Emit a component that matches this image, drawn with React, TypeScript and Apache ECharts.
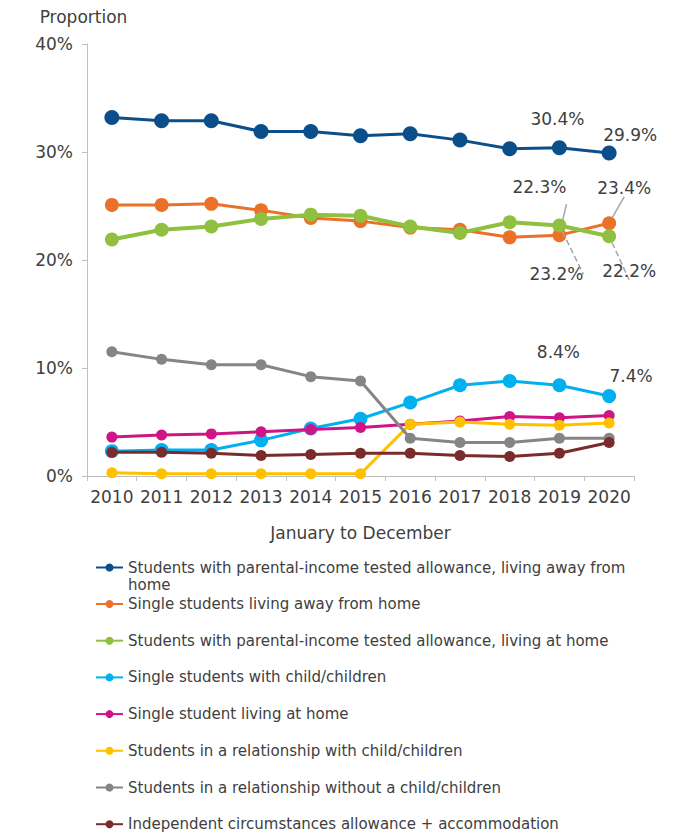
import React, { useEffect, useRef } from "react";
import * as echarts from "echarts";

const years = ["2010", "2011", "2012", "2013", "2014", "2015", "2016", "2017", "2018", "2019", "2020"];
const yTicks = [0, 10, 20, 30, 40];

const parentalAway = [33.2, 32.9, 32.9, 31.9, 31.9, 31.5, 31.7, 31.1, 30.3, 30.4, 29.9];
const singleAway = [25.1, 25.1, 25.2, 24.6, 23.9, 23.6, 23.0, 22.8, 22.1, 22.3, 23.4];
const parentalHome = [21.9, 22.8, 23.1, 23.8, 24.2, 24.1, 23.1, 22.5, 23.5, 23.2, 22.2];
const singleChild = [2.3, 2.4, 2.4, 3.3, 4.4, 5.3, 6.8, 8.4, 8.8, 8.4, 7.4];
const singleHome = [3.6, 3.8, 3.9, 4.1, 4.3, 4.5, 4.8, 5.1, 5.5, 5.4, 5.6];
const relationChild = [0.3, 0.2, 0.2, 0.2, 0.2, 0.2, 4.8, 5.0, 4.8, 4.7, 4.9];
const relationNoChild = [11.5, 10.8, 10.3, 10.3, 9.2, 8.8, 3.5, 3.1, 3.1, 3.5, 3.5];
const independent = [2.2, 2.2, 2.1, 1.9, 2.0, 2.1, 2.1, 1.9, 1.8, 2.1, 3.1];

const seriesNames = [
  "Students with parental-income tested allowance, living away from home",
  "Single students living away from home",
  "Students with parental-income tested allowance, living at home",
  "Single students with child/children",
  "Single student living at home",
  "Students in a relationship with child/children",
  "Students in a relationship without a child/children",
  "Independent circumstances allowance + accommodation",
];
const seriesValues = [parentalAway, singleAway, parentalHome, singleChild, singleHome, relationChild, relationNoChild, independent];
const colors = ["#0b4f8a", "#ea7127", "#8fc03f", "#00b0f0", "#cf1488", "#ffc000", "#858585", "#7a2b2b"];
const symbolSizes = [15, 14, 14, 14, 11, 11, 11, 11];
const lineWidths = [3, 3, 4, 3, 3, 3, 3, 3];

// annotated points: series index -> { data index, label offset, leader line style }
const annotations: Record<number, { idx: number; off: [number, number]; line?: "solid" | "dashed" }[]> = {
  0: [
    { idx: 9, off: [-2, -29] },
    { idx: 10, off: [21, -18] },
  ],
  1: [
    { idx: 9, off: [-20, -48], line: "solid" },
    { idx: 10, off: [15, -35], line: "solid" },
  ],
  2: [
    { idx: 9, off: [-3, 49], line: "dashed" },
    { idx: 10, off: [20, 35], line: "dashed" },
  ],
  3: [
    { idx: 9, off: [-1, -33] },
    { idx: 10, off: [22, -20] },
  ],
};

export default function App() {
  const ref = useRef<HTMLDivElement>(null);
  useEffect(() => {
    document.body.style.margin = "0";
    if (!ref.current) return;
    const chart = echarts.init(ref.current, undefined, { renderer: "svg" });
    const font = "DejaVu Sans";
    const txt = "#404040";
    const series = seriesValues.map((vals, si) => {
      const ann = annotations[si] || [];
      const data = vals.map((v, i) => {
        const a = ann.find((x) => x.idx === i);
        if (!a) return v;
        return {
          value: v,
          label: {
            show: true,
            position: "inside",
            offset: a.off,
            formatter: (p: any) => Number(p.value).toFixed(1) + "%",
            color: txt,
            fontSize: 17,
            fontFamily: font,
          },
          labelLine: a.line
            ? { show: true, lineStyle: { color: "#a6a6a6", width: 1.5, type: a.line } }
            : { show: false },
        };
      });
      return {
        name: seriesNames[si],
        type: "line",
        data,
        symbol: "circle",
        symbolSize: symbolSizes[si],
        showAllSymbol: true,
        color: colors[si],
        lineStyle: { color: colors[si], width: lineWidths[si] },
        itemStyle: { color: colors[si], borderWidth: 0 },
        label: { show: false },
        emphasis: { disabled: true },
        z: 2 + si,
      };
    });
    const legendText = {
      color: txt,
      fontSize: 15,
      fontFamily: font,
      lineHeight: 17,
    };
    const legendBase = {
      orient: "vertical",
      left: 95,
      padding: 0,
      itemWidth: 27,
      itemHeight: 10,
      itemGap: 19.7,
    };
    chart.setOption({
      animation: false,
      textStyle: { fontFamily: font },
      grid: { left: 87, right: 66, top: 44, bottom: 360, outerBoundsMode: "none" },
      xAxis: {
        type: "category",
        data: years,
        boundaryGap: true,
        name: "January to December",
        nameLocation: "middle",
        nameGap: 48,
        nameTextStyle: { color: txt, fontSize: 17, fontFamily: font },
        axisLine: { lineStyle: { color: "#bfbfbf", width: 1 } },
        axisTick: { show: true, alignWithLabel: false, length: 5, lineStyle: { color: "#bfbfbf" } },
        axisLabel: { color: txt, fontSize: 17, fontFamily: font, margin: 12, interval: 0 },
        splitLine: { show: false },
      },
      yAxis: {
        type: "value",
        min: yTicks[0],
        max: yTicks[yTicks.length - 1],
        interval: yTicks[1] - yTicks[0],
        name: "Proportion",
        nameLocation: "end",
        nameGap: 19,
        nameTextStyle: { color: txt, fontSize: 17, fontFamily: font, align: "center", padding: [0, 7, 0, 0] },
        axisLine: { show: true, lineStyle: { color: "#bfbfbf", width: 1 } },
        axisTick: { show: true, length: 5, lineStyle: { color: "#bfbfbf" } },
        axisLabel: { color: txt, fontSize: 17, fontFamily: font, margin: 14, formatter: "{value}%" },
        splitLine: { show: false },
      },
      legend: [
        {
          ...legendBase,
          top: 542,
          data: seriesNames.slice(0, 1),
          formatter: (name: string) => "\n" + name,
          textStyle: { ...legendText, width: 520, overflow: "break" },
        },
        {
          ...legendBase,
          top: 595.5,
          data: seriesNames.slice(1),
          textStyle: legendText,
        },
      ],
      series,
    });
    return () => chart.dispose();
  }, []);
  return <div ref={ref} style={{ width: 700, height: 836 }} />;
}
